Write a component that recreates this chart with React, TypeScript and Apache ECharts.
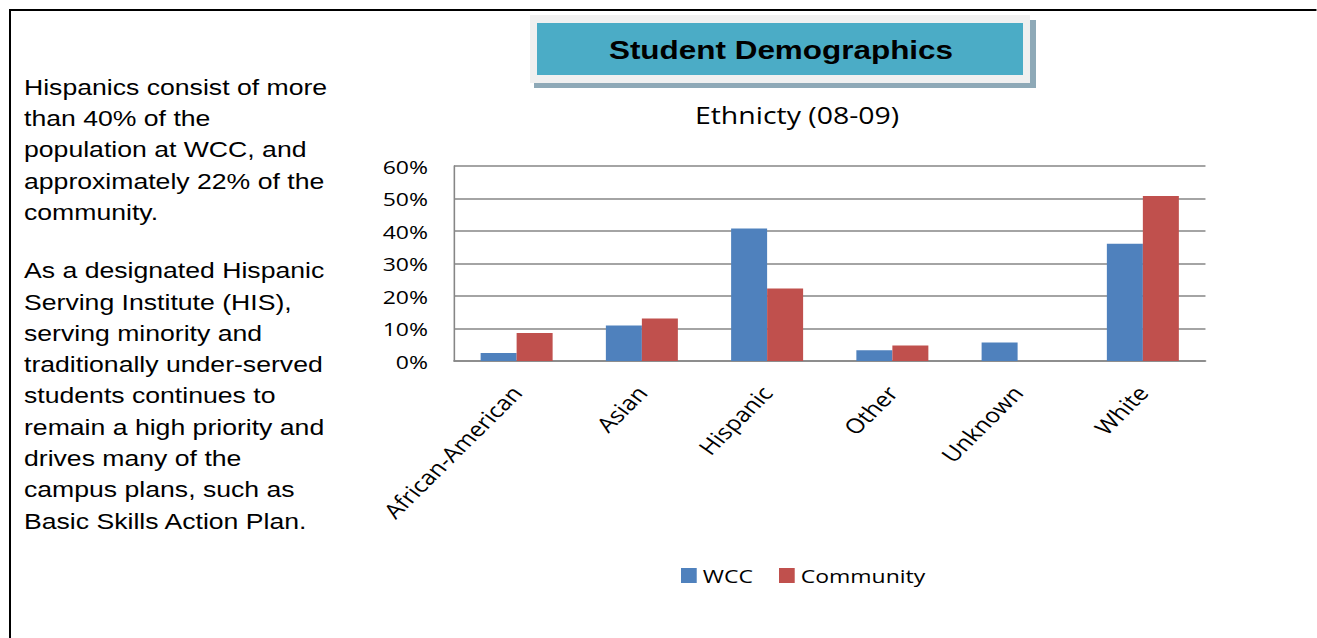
import React, { useEffect, useRef } from "react";
import * as echarts from "echarts";

const categories = ["African-American", "Asian", "Hispanic", "Other", "Unknown", "White"];
const wccValues = [2.5, 10.9, 40.8, 3.3, 5.7, 36.1];
const communityValues = [8.6, 13.1, 22.3, 4.8, 0, 50.8];
const seriesNames = ["WCC", "Community"];
const paragraph1 = [
  "Hispanics consist of more",
  "than 40% of the",
  "population at WCC, and",
  "approximately 22% of the",
  "community.",
];
const paragraph2 = [
  "As a designated Hispanic",
  "Serving Institute (HIS),",
  "serving minority and",
  "traditionally under-served",
  "students continues to",
  "remain a high priority and",
  "drives many of the",
  "campus plans, such as",
  "Basic Skills Action Plan.",
];

const CHART_FONT = "'Open Sans', sans-serif";
const TEXT_FONT = "'Liberation Sans', Arial, sans-serif";

// The slide is shown stretched horizontally; draw at a narrower width and stretch.
const S = 1.21;
const W = 1317 / S;
const H = 638;
const X = (v: number) => v / S;

export default function App() {
  const ref = useRef<HTMLDivElement>(null);
  useEffect(() => {
    if (!ref.current) return;
    const chart = echarts.init(ref.current, null, { renderer: "svg" });
    chart.setOption({
      animation: false,
      backgroundColor: "#ffffff",
      title: {
        text: "Ethnicty (08-09)",
        left: X(791),
        top: 98,
        textAlign: "center",
        textStyle: { fontFamily: CHART_FONT, fontSize: 23.5, fontWeight: "normal", color: "#000" },
      },
      legend: {
        data: seriesNames,
        left: X(681),
        top: 566,
        itemWidth: 13,
        itemHeight: 15,
        itemGap: 21.5,
        icon: "rect",
        textStyle: { fontFamily: CHART_FONT, fontSize: 19, color: "#000" },
        padding: 0,
      },
      grid: { left: X(454), right: X(111), top: 166, bottom: 277, containLabel: false },
      xAxis: {
        type: "category",
        data: categories,
        axisLine: { show: true, lineStyle: { color: "#868686", width: 1.5 } },
        axisTick: { show: false },
        axisLabel: {
          rotate: 50,
          interval: 0,
          margin: 28,
          fontFamily: CHART_FONT,
          fontSize: 20.5,
          color: "#000",
        },
      },
      yAxis: {
        type: "value",
        min: 0,
        max: 60,
        interval: 10,
        axisLine: { show: true, lineStyle: { color: "#868686", width: 1.3 } },
        axisTick: { show: false },
        splitLine: { show: true, lineStyle: { color: "#868686", width: 1.5 } },
        axisLabel: {
          formatter: "{value}%",
          margin: X(26),
          fontFamily: CHART_FONT,
          fontSize: 19,
          color: "#000",
        },
      },
      series: [
        {
          name: seriesNames[0],
          type: "bar",
          data: wccValues,
          barWidth: X(36),
          barGap: "0%",
          itemStyle: { color: "#4f81bd" },
        },
        {
          name: seriesNames[1],
          type: "bar",
          data: communityValues,
          barWidth: X(36),
          barGap: "0%",
          itemStyle: { color: "#c0504d" },
        },
      ],
      graphic: [
        { type: "line", shape: { x1: X(10), y1: 10, x2: W, y2: 10 }, style: { stroke: "#000", lineWidth: 2 } },
        { type: "line", shape: { x1: X(10), y1: 9, x2: X(10), y2: H }, style: { stroke: "#000", lineWidth: 2 / S } },
        { type: "rect", shape: { x: X(534), y: 20, width: X(502), height: 68 }, style: { fill: "#8ea9b7" } },
        { type: "rect", shape: { x: X(530), y: 15, width: X(500), height: 68 }, style: { fill: "#f0f0f0" } },
        { type: "rect", shape: { x: X(537), y: 23, width: X(486), height: 52 }, style: { fill: "#4bacc6" } },
        {
          type: "text",
          x: X(781),
          y: 50,
          style: {
            text: "Student Demographics",
            fontFamily: TEXT_FONT,
            fontSize: 26,
            fontWeight: "bold",
            fill: "#000",
            textAlign: "center",
            textVerticalAlign: "middle",
          },
        },
        {
          type: "text",
          x: X(24),
          y: 71.5,
          style: {
            text: paragraph1.join("\n"),
            fontFamily: TEXT_FONT,
            fontSize: 22,
            lineHeight: 31.3,
            fill: "#000",
            textAlign: "left",
            textVerticalAlign: "top",
          },
        },
        {
          type: "text",
          x: X(24),
          y: 255,
          style: {
            text: paragraph2.join("\n"),
            fontFamily: TEXT_FONT,
            fontSize: 22,
            lineHeight: 31.3,
            fill: "#000",
            textAlign: "left",
            textVerticalAlign: "top",
          },
        },
      ],
    });
    return () => chart.dispose();
  }, []);
  return (
    <div
      ref={ref}
      style={{
        position: "absolute",
        left: 0,
        top: 0,
        width: W,
        height: H,
        transform: `scaleX(${S})`,
        transformOrigin: "0 0",
      }}
    />
  );
}
